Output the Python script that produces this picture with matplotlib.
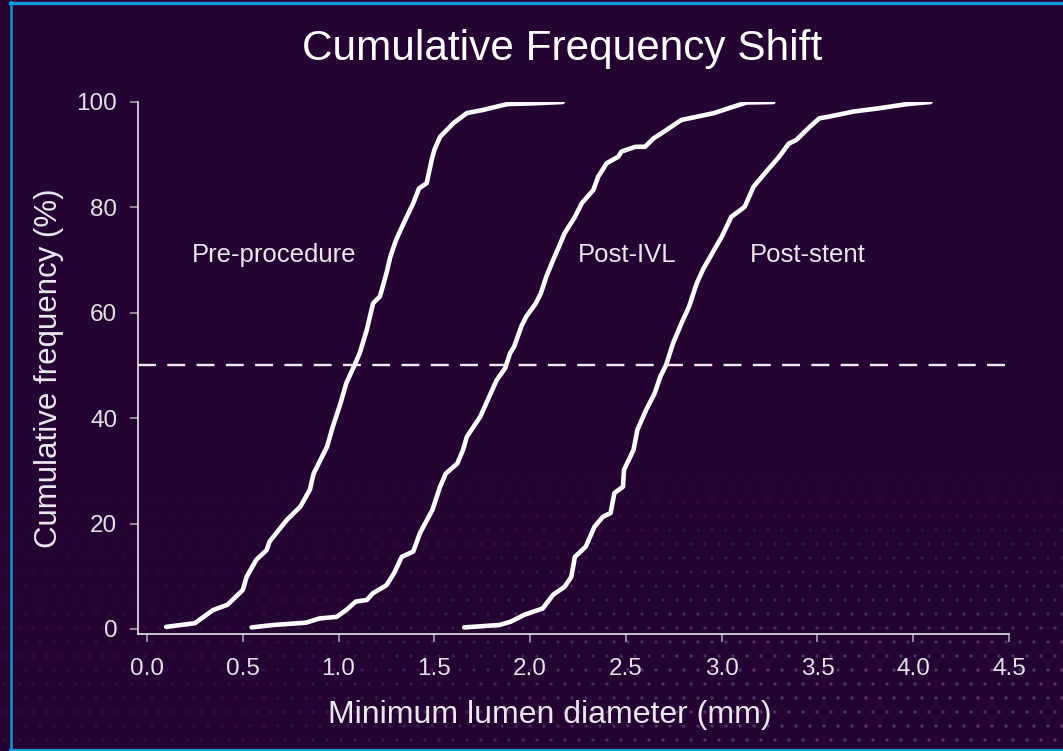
import numpy as np
import matplotlib.pyplot as plt
from matplotlib.lines import Line2D

plt.rcParams['font.family'] = ['Liberation Sans', 'DejaVu Sans']

# minimum lumen diameter (mm) vs cumulative frequency (%)
pre_x = [0.10, 0.25, 0.345, 0.42, 0.50, 0.52, 0.57, 0.625, 0.64, 0.73, 0.80, 0.85, 0.87,
         0.94, 0.97, 1.01, 1.04, 1.08, 1.11, 1.147, 1.18, 1.216, 1.25, 1.27, 1.30, 1.34,
         1.39, 1.42, 1.46, 1.486, 1.50, 1.53, 1.60, 1.67, 1.755, 1.88, 2.02, 2.17]
pre_y = [0.4, 1.1, 3.6, 4.6, 7.4, 9.9, 13.1, 15.0, 16.6, 20.7, 23.2, 26.4, 29.5,
         34.6, 38.4, 42.8, 46.6, 49.8, 52.3, 56.7, 61.8, 63.1, 67.5, 70.6, 73.8, 77.0,
         80.8, 83.6, 84.6, 89.0, 90.9, 93.4, 96.0, 97.9, 98.5, 99.6, 99.75, 100.0]

ivl_x = [0.546, 0.66, 0.83, 0.90, 0.99, 1.04, 1.09, 1.147, 1.18, 1.25, 1.29, 1.33, 1.39,
         1.425, 1.49, 1.53, 1.56, 1.62, 1.65, 1.67, 1.74, 1.825, 1.87, 1.895, 1.917, 1.954,
         1.98, 2.03, 2.056, 2.085, 2.12, 2.15, 2.18, 2.234, 2.27, 2.33, 2.355, 2.40, 2.46,
         2.477, 2.55, 2.60, 2.644, 2.70, 2.79, 2.87, 2.96, 3.035, 3.13, 3.27]
ivl_y = [0.3, 0.76, 1.2, 2.0, 2.3, 3.6, 5.2, 5.5, 6.8, 8.3, 10.6, 13.7, 14.7,
         18.2, 22.6, 27.0, 29.5, 31.4, 34.0, 36.5, 40.3, 47.2, 49.5, 52.3, 53.6, 57.4,
         59.3, 61.8, 63.7, 66.9, 70.0, 72.5, 75.1, 78.2, 80.8, 83.3, 85.8, 88.4, 89.6,
         90.6, 91.5, 91.5, 93.1, 94.4, 96.6, 97.2, 97.9, 98.8, 99.9, 100.0]

stent_x = [1.656, 1.84, 1.90, 1.97, 2.066, 2.12, 2.18, 2.215, 2.234, 2.29, 2.336, 2.38,
           2.42, 2.44, 2.485, 2.49, 2.54, 2.56, 2.606, 2.65, 2.68, 2.71, 2.746, 2.79,
           2.83, 2.87, 2.905, 2.94, 2.96, 3.00, 3.05, 3.12, 3.166, 3.24, 3.30, 3.35, 3.39,
           3.46, 3.51, 3.557, 3.69, 3.82, 3.967, 4.09]
stent_y = [0.3, 0.76, 1.4, 2.7, 3.9, 6.5, 8.0, 9.9, 13.7, 15.6, 19.4, 21.3,
           22.0, 25.8, 27.0, 30.2, 34.0, 37.8, 41.6, 44.7, 47.9, 50.1, 54.2, 58.0,
           61.2, 65.6, 68.4, 70.6, 71.9, 74.4, 78.2, 80.1, 83.9, 87.1, 89.6, 92.1, 92.8,
           95.3, 96.9, 97.2, 98.2, 98.8, 99.6, 100.0]

labels = ['Pre-procedure', 'Post-IVL', 'Post-stent']
label_x = [0.233, 2.247, 3.147]
label_y = [69.6, 69.7, 69.7]

xticks = [0.0, 0.5, 1.0, 1.5, 2.0, 2.5, 3.0, 3.5, 4.0, 4.5]
yticks = [0, 20, 40, 60, 80, 100]

bg = '#250333'
W, H = 1063, 751

fig = plt.figure(figsize=(W / 100, H / 100), dpi=100, facecolor=bg)

# faint dotted texture at the bottom of the slide
deco = fig.add_axes([0, 0, 1, 1], zorder=-5)
deco.set_xlim(0, W)
deco.set_ylim(H, 0)
deco.axis('off')
gx, gy = np.meshgrid(np.arange(5, W, 14), np.arange(460, H, 14))
gx = gx + (gy // 14 % 2) * 7
a = np.clip((gy - 460) / 200, 0, 1) * np.clip((gx - 60) / 650, 0.25, 1) * 0.4
cols = np.zeros((gx.size, 4))
cols[:, :3] = [0.62, 0.47, 0.72]
cols[:, 3] = a.ravel()
deco.scatter(gx.ravel(), gy.ravel(), s=6, c=cols, lw=0)

ax = fig.add_axes([138 / W, (H - 634) / H, (1009 - 138) / W, (634 - 102) / H])
ax.set_facecolor('none')
ax.set_xlim(-0.047, 4.5)
ax.set_ylim(-0.95, 100)

for xs, ys in [(pre_x, pre_y), (ivl_x, ivl_y), (stent_x, stent_y)]:
    ax.plot(xs, ys, color='white', lw=3.3, solid_capstyle='round', solid_joinstyle='round')

ax.axhline(50, color='#f0ecf2', lw=1.7, dashes=(7.6, 4.8))

for t, x, y in zip(labels, label_x, label_y):
    ax.text(x, y, t, color='#ece6ef', fontsize=18.5, ha='left', va='baseline')

for s in ['top', 'right']:
    ax.spines[s].set_visible(False)
for s in ['left', 'bottom']:
    ax.spines[s].set_color('#e8e4ea')
    ax.spines[s].set_linewidth(1.2)

ax.set_xticks(xticks)
ax.set_xticklabels(['%.1f' % v for v in xticks])
ax.set_yticks(yticks)
ax.tick_params(axis='both', colors='#a8a0ad', labelcolor='#e6e2e8', labelsize=17.5,
               length=6, width=1.2, direction='out')
ax.tick_params(axis='y', pad=9)
ax.tick_params(axis='x', pad=11)

fig.text(562 / W, 1 - 60 / H, 'Cumulative Frequency Shift', color='white',
         fontsize=30.5, ha='center', va='baseline')
fig.text(550 / W, 1 - 723 / H, 'Minimum lumen diameter (mm)', color='#ece6ef',
         fontsize=23, ha='center', va='baseline')
fig.text(49 / W, 1 - 368 / H, 'Cumulative frequency (%)', color='#ece6ef',
         fontsize=22.5, ha='center', va='center', rotation=90)

# blue slide frame
blue = '#0a9bd8'
fig.add_artist(Line2D([10.5 / W, 10.5 / W], [0, 1 - 2 / H], transform=fig.transFigure,
                      color=blue, lw=1.8))
fig.add_artist(Line2D([10 / W, 1], [1 - 3 / H, 1 - 3 / H], transform=fig.transFigure,
                      color=blue, lw=2.4))
fig.add_artist(Line2D([10 / W, 1], [1 - 750 / H, 1 - 750 / H], transform=fig.transFigure,
                      color=blue, lw=2.4))

fig.savefig('out.png', dpi=100, facecolor=bg)
